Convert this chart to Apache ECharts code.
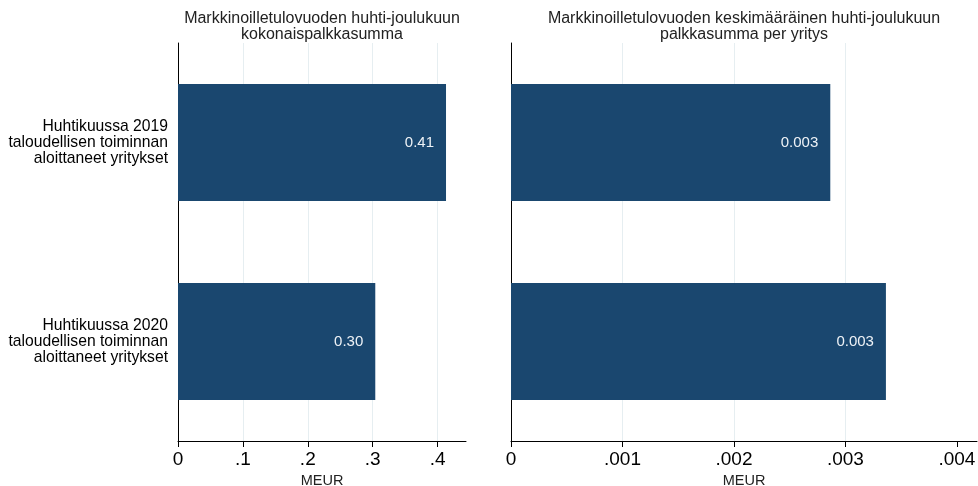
<!DOCTYPE html>
<html>
<head>
<meta charset="utf-8">
<script src="https://cdn.jsdelivr.net/npm/echarts@6/dist/echarts.min.js"></script>
<style>html,body{margin:0;padding:0;background:#fff}#c{width:978px;height:486px}</style>
</head>
<body>
<div id="c"></div>
<script>
const categories = [
  'Huhtikuussa 2019\ntaloudellisen toiminnan\naloittaneet yritykset',
  'Huhtikuussa 2020\ntaloudellisen toiminnan\naloittaneet yritykset'
];
const totalWages = [0.413, 0.304];
const avgWagesPerFirm = [0.002864, 0.003363];
const leftTicks = [0, 0.1, 0.2, 0.3, 0.4];
const rightTicks = [0, 0.001, 0.002, 0.003, 0.004];
const leftTitle = 'Markkinoilletulovuoden huhti-joulukuun\nkokonaispalkkasumma';
const rightTitle = 'Markkinoilletulovuoden keskimääräinen huhti-joulukuun\npalkkasumma per yritys';
const axisName = 'MEUR';

const FONT = '"Liberation Sans", Arial, sans-serif';
const BAR = '#1a476f';
const GRIDC = '#e6eef1';
const T = 'rgba(0,0,0,0)';

function tickFmt(v) {
  if (Math.abs(v) < 1e-12) return '0';
  return String(+v.toFixed(4)).replace(/^0\./, '.');
}

const chart = echarts.init(document.getElementById('c'), null, {renderer: 'canvas'});
chart.setOption({
  animation: false,
  backgroundColor: '#fff',
  textStyle: {fontFamily: FONT},
  title: [
    {text: leftTitle, left: 317, top: 6, textAlign: 'center',
     textStyle: {fontFamily: FONT, fontSize: 16, fontWeight: 'normal', color: '#222', lineHeight: 16, align: 'center'}},
    {text: rightTitle, left: 739, top: 6, textAlign: 'center',
     textStyle: {fontFamily: FONT, fontSize: 16, fontWeight: 'normal', color: '#222', lineHeight: 16, align: 'center'}}
  ],
  grid: [
    {left: 178, top: 43, width: 288, height: 398, containLabel: false, outerBoundsMode: 'none'},
    {left: 511, top: 43, width: 466, height: 398, containLabel: false, outerBoundsMode: 'none'}
  ],
  xAxis: [
    {type: 'value', gridIndex: 0, min: 0, max: 0.4438, interval: 0.1,
     name: axisName, nameLocation: 'middle', nameGap: 31,
     nameTextStyle: {fontFamily: FONT, fontSize: 14.5, color: '#222'},
     axisLine: {show: true, lineStyle: {color: '#000', width: 1}},
     axisTick: {show: true, length: 6, customValues: leftTicks, lineStyle: {color: '#000'}},
     axisLabel: {customValues: leftTicks, margin: 9, fontSize: 19, color: '#000', fontFamily: FONT, formatter: tickFmt},
     splitLine: {show: true, lineStyle: {color: [T, GRIDC, GRIDC, GRIDC, GRIDC, T], width: 1}}},
    {type: 'value', gridIndex: 1, min: 0, max: 0.00418, interval: 0.001,
     name: axisName, nameLocation: 'middle', nameGap: 31,
     nameTextStyle: {fontFamily: FONT, fontSize: 14.5, color: '#222'},
     axisLine: {show: true, lineStyle: {color: '#000', width: 1}},
     axisTick: {show: true, length: 6, customValues: rightTicks, lineStyle: {color: '#000'}},
     axisLabel: {customValues: rightTicks, margin: 9, fontSize: 19, color: '#000', fontFamily: FONT, formatter: tickFmt},
     splitLine: {show: true, lineStyle: {color: [T, GRIDC, GRIDC, GRIDC, T, T], width: 1}}}
  ],
  yAxis: [
    {type: 'category', gridIndex: 0, data: categories, inverse: true,
     axisLine: {show: true, lineStyle: {color: '#000', width: 1}},
     axisTick: {show: false},
     axisLabel: {margin: 10, fontSize: 15.7, lineHeight: 16, color: '#000', fontFamily: FONT, align: 'right'}},
    {type: 'category', gridIndex: 1, data: categories, inverse: true,
     axisLine: {show: true, lineStyle: {color: '#000', width: 1}},
     axisTick: {show: false},
     axisLabel: {show: false}}
  ],
  series: [
    {type: 'bar', xAxisIndex: 0, yAxisIndex: 0, data: totalWages, barWidth: 117,
     itemStyle: {color: BAR},
     label: {show: true, position: 'insideRight', distance: 12, color: '#eef2f6', fontSize: 15, fontFamily: FONT,
             formatter: p => p.value.toFixed(2)}},
    {type: 'bar', xAxisIndex: 1, yAxisIndex: 1, data: avgWagesPerFirm, barWidth: 117,
     itemStyle: {color: BAR},
     label: {show: true, position: 'insideRight', distance: 12, color: '#eef2f6', fontSize: 15, fontFamily: FONT,
             formatter: p => p.value.toFixed(3)}}
  ]
});
</script>
</body>
</html>
